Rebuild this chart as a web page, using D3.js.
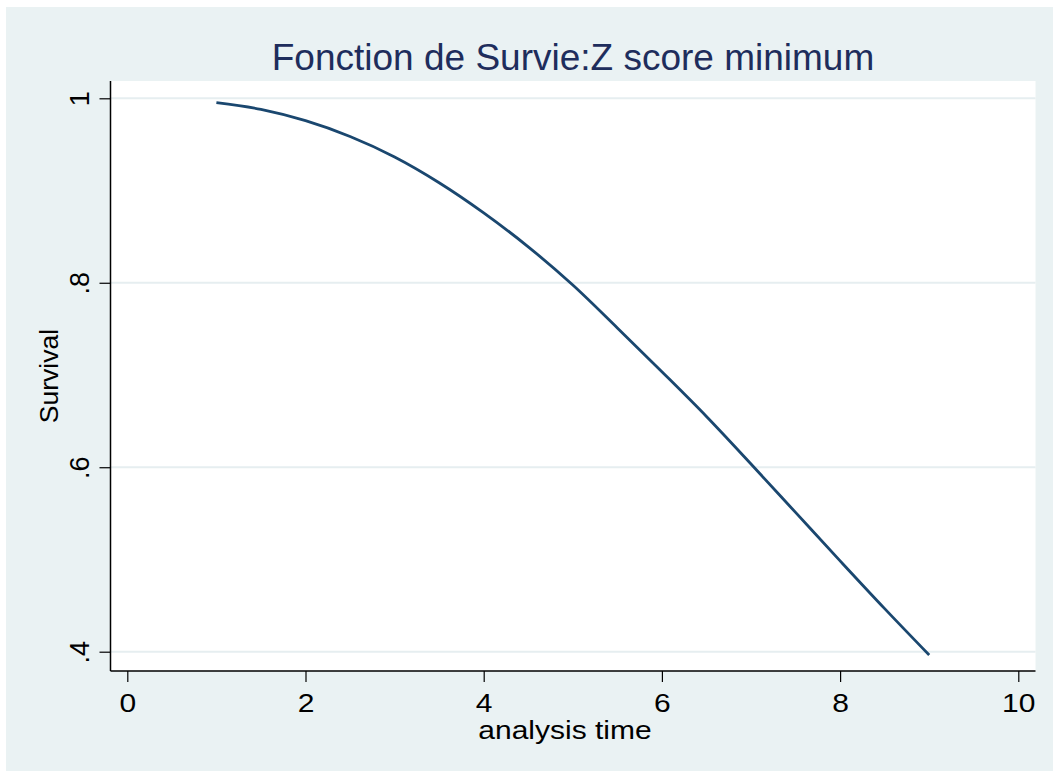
<!DOCTYPE html>
<html>
<head>
<meta charset="utf-8">
<script src="https://cdn.jsdelivr.net/npm/d3@7/dist/d3.min.js"></script>
<style>
  html, body { margin: 0; padding: 0; background: #ffffff; }
  svg { display: block; }
  text { font-family: "Liberation Sans", Arial, sans-serif; }
</style>
</head>
<body>
<svg id="chart" width="1053" height="771"></svg>
<script>
// ---- data ----
const titleText = "Fonction de Survie:Z score minimum";
const xLabel = "analysis time";
const yLabel = "Survival";
const xTicks = [0, 2, 4, 6, 8, 10];
const yTicks = [0.4, 0.6, 0.8, 1];
const yTickLabels = [".4", ".6", ".8", "1"];
const times = [1, 1.5, 2, 2.5, 3, 3.5, 4, 4.5, 5, 5.5, 6, 6.5, 7, 7.5, 8, 8.5, 9];
const survival = [0.9952, 0.988, 0.9757, 0.9586, 0.9364, 0.9085, 0.8758, 0.839, 0.7975,
                  0.751, 0.7035, 0.655, 0.6035, 0.551, 0.4985, 0.4467, 0.3964];

// ---- layout ----
const svg = d3.select("#chart");
const W = 1053, H = 771;
const plot = { left: 110.5, right: 1035.5, top: 81, bottom: 671 };
const FONT = "Liberation Sans, Arial, sans-serif";

svg.append("rect").attr("x", 6).attr("y", 7).attr("width", W - 6).attr("height", H - 7)
  .attr("fill", "#EAF2F3");
svg.append("rect").attr("x", plot.left).attr("y", plot.top)
  .attr("width", plot.right - plot.left).attr("height", plot.bottom - plot.top)
  .attr("fill", "#ffffff");

const x = d3.scaleLinear().domain([0, 10]).range([127.3, 1018.3]);
const y = d3.scaleLinear().domain([0.4, 1]).range([651.7, 98.3]);

// gridlines
svg.append("g").selectAll("line").data(yTicks).join("line")
  .attr("x1", plot.left).attr("x2", plot.right)
  .attr("y1", d => y(d)).attr("y2", d => y(d))
  .attr("stroke", "#E6EEF0").attr("stroke-width", 2);

// x axis
const xAxis = d3.axisBottom(x).tickValues(xTicks).tickSize(11).tickPadding(10)
  .tickFormat(d3.format("d"));
const gx = svg.append("g").attr("transform", `translate(0,${plot.bottom})`).call(xAxis);
gx.select(".domain").remove();
gx.append("line").attr("x1", plot.left).attr("x2", plot.right).attr("y1", 0).attr("y2", 0)
  .attr("stroke", "#000").attr("stroke-width", 1.5);
gx.selectAll(".tick line").attr("stroke", "#000").attr("stroke-width", 1.2);
gx.selectAll(".tick text")
  .attr("y", null).attr("dy", null)
  .attr("transform", "translate(0,40.5) scale(1.2,1)")
  .attr("fill", "#000").attr("font-size", 25)
  .attr("font-family", FONT);

// y axis
const yAxis = d3.axisLeft(y).tickValues(yTicks).tickSize(11).tickPadding(0)
  .tickFormat((d, i) => yTickLabels[i]);
const gy = svg.append("g").attr("transform", `translate(${plot.left},0)`).call(yAxis);
gy.select(".domain").remove();
gy.append("line").attr("x1", 0).attr("x2", 0).attr("y1", plot.top).attr("y2", plot.bottom)
  .attr("stroke", "#000").attr("stroke-width", 1.5);
gy.selectAll(".tick line").attr("stroke", "#000").attr("stroke-width", 1.2);
gy.selectAll(".tick text")
  .attr("x", null).attr("dy", null)
  .attr("transform", "translate(-21.5,0) rotate(-90)")
  .attr("text-anchor", "middle")
  .attr("fill", "#000").attr("font-size", 27)
  .attr("font-family", FONT);

// line
const pts = times.map((t, i) => [t, survival[i]]);
svg.append("path").datum(pts)
  .attr("d", d3.line().x(d => x(d[0])).y(d => y(d[1])).curve(d3.curveMonotoneX))
  .attr("fill", "none").attr("stroke", "#1A476F").attr("stroke-width", 2.8);

// titles
svg.append("text").attr("x", (plot.left + plot.right) / 2).attr("y", 70)
  .attr("text-anchor", "middle").attr("font-size", 37).attr("fill", "#1E2D5C")
  .text(titleText);
svg.append("text")
  .attr("transform", `translate(${(plot.left + plot.right) / 2 - 8},738.5) scale(1.2,1)`)
  .attr("text-anchor", "middle").attr("font-size", 25).attr("fill", "#000")
  .text(xLabel);
svg.append("text").attr("transform", `translate(57.5,${(plot.top + plot.bottom) / 2}) rotate(-90)`)
  .attr("text-anchor", "middle").attr("font-size", 26.5).attr("fill", "#000")
  .text(yLabel);
</script>
</body>
</html>
